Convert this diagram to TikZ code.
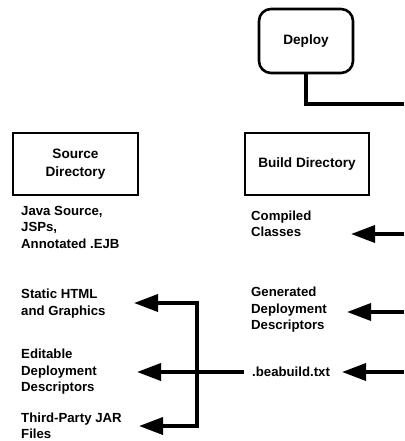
\documentclass[tikz,border=0pt]{standalone}
\usepackage{fontspec}
\setmainfont{Liberation Sans}
\usetikzlibrary{arrows.meta}
\begin{document}
\begin{tikzpicture}[x=1pt,y=-1pt,
  box/.style={draw,line width=2.6pt,inner sep=0pt,align=center,font=\bfseries\fontsize{13.6}{17.5}\selectfont},
  lbl/.style={anchor=west,inner sep=0pt,align=left,font=\bfseries\fontsize{13.2}{16.5}\selectfont},
  conn/.style={line width=3.6pt,line join=miter},
  arr/.style={conn,-{Triangle[length=24pt,width=17pt]}}]
\useasboundingbox[fill=white] (0,0) rectangle (404,441);
% boxes
\node[box,rounded corners=12pt,minimum width=94pt,minimum height=64pt] (deploy) at (306,41) {Deploy};
\node[box,minimum width=125pt,minimum height=62pt] (src) at (75.5,164) {Source\\Directory};
\node[box,minimum width=124pt,minimum height=62pt] (build) at (307,164) {Build Directory};
% labels
\node[lbl] (java) at (21,227) {Java Source,\\JSPs,\\Annotated .EJB};
\node[lbl] (static) at (21,303.5) {Static HTML\\and Graphics};
\node[lbl] (edit) at (21,372) {Editable\\Deployment\\Descriptors};
\node[lbl] (third) at (21,426) {Third-Party JAR\\Files};
\node[lbl] (comp) at (251,224) {Compiled\\Classes};
\node[lbl] (gen) at (251,310) {Generated\\Deployment\\Descriptors};
\node[lbl] (bea) at (252,372) {.beabuild.txt};
% coordinates
\coordinate (eTop) at (404,104);
\coordinate (eComp) at (404,234);
\coordinate (eGen) at (404,312);
\coordinate (eBea) at (404,372);
\coordinate (tComp) at (351,234);
\coordinate (tGen) at (347,312);
\coordinate (tBea) at (342,372);
\coordinate (j) at (197,372);
\coordinate (tStatic) at (134,303);
\coordinate (tEdit) at (137,372);
\coordinate (tThird) at (139,426);
% connectors
\draw[conn] (deploy.south) |- (eTop);
\draw[arr] (eComp) -- (tComp);
\draw[arr] (eGen) -- (tGen);
\draw[arr] (eBea) -- (tBea);
\draw[arr] ([xshift=-8pt]bea.west) -- (tEdit);
\draw[arr] (j) |- (tStatic);
\draw[arr] (j) |- (tThird);
\end{tikzpicture}
\end{document}
